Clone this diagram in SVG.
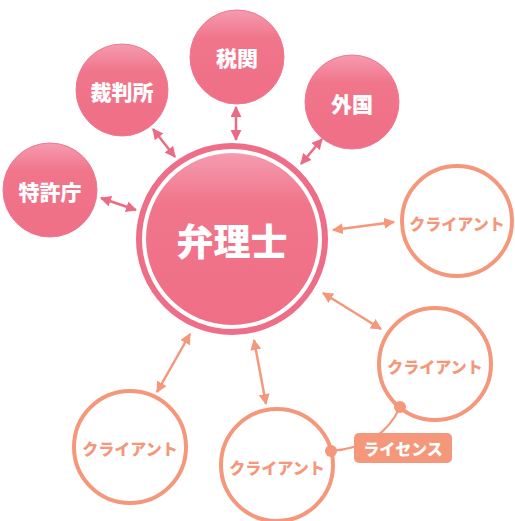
<svg xmlns="http://www.w3.org/2000/svg" width="515" height="521" viewBox="0 0 515 521">
<defs>
<linearGradient id="pg" x1="0" y1="0" x2="0" y2="1">
<stop offset="0" stop-color="#f59bb0"/>
<stop offset="0.3" stop-color="#f0758b"/>
<stop offset="1" stop-color="#ef6f86"/>
</linearGradient>
<marker id="ap" viewBox="0 0 10 10" refX="9" refY="5" markerWidth="4.4" markerHeight="4.4" orient="auto-start-reverse" markerUnits="strokeWidth">
<path d="M0,0 L10,5 L0,10 Z" fill="#ec6b84"/>
</marker>
<marker id="ao" viewBox="0 0 10 10" refX="9" refY="5" markerWidth="4.4" markerHeight="4.4" orient="auto-start-reverse" markerUnits="strokeWidth">
<path d="M0,0 L10,5 L0,10 Z" fill="#f5977a"/>
</marker>
<style>
.sat{fill:url(#pg);stroke:#f07890;stroke-width:1}
.st{fill:#fff;font-family:"Noto Sans CJK JP","Noto Sans",sans-serif;font-weight:900;font-size:21px;text-anchor:middle;dominant-baseline:central}
.cl{fill:#fff;stroke:#f5977a;stroke-width:4}
.ct{fill:#f5977a;font-family:"Noto Sans CJK JP","Noto Sans",sans-serif;font-weight:900;font-size:16px;text-anchor:middle;dominant-baseline:central}
.cp{stroke:#ec6b84;stroke-width:2.5;fill:none;marker-start:url(#ap);marker-end:url(#ap)}
.co{stroke:#f5977a;stroke-width:2.5;fill:none;marker-start:url(#ao);marker-end:url(#ao)}
</style>
</defs>
<g id="connectors">
<line class="cp" x1="236" y1="107" x2="236" y2="140"/>
<line class="cp" x1="153" y1="129" x2="175" y2="157"/>
<line class="cp" x1="101" y1="198" x2="136" y2="210"/>
<line class="cp" x1="322" y1="139" x2="301" y2="164"/>
<line class="co" x1="333" y1="230" x2="394" y2="222"/>
<line class="co" x1="323" y1="293" x2="381" y2="329"/>
<line class="co" x1="254" y1="340" x2="266" y2="404"/>
<line class="co" x1="190" y1="334" x2="157" y2="392"/>
</g>
<g id="n-benrishi">
<circle cx="232" cy="239" r="93" fill="none" stroke="#ee6d87" stroke-width="6"/>
<circle cx="232" cy="239" r="86" fill="url(#pg)"/>
<text x="232" y="240" class="st" style="font-size:37px">弁理士</text>
</g>
<g id="n-zeikan">
<circle class="sat" cx="237" cy="57" r="47"/>
<text x="237" y="57" class="st">税関</text>
</g>
<g id="n-saibansho">
<circle class="sat" cx="122" cy="90" r="46"/>
<text x="122" y="91" class="st">裁判所</text>
</g>
<g id="n-tokkyocho">
<circle class="sat" cx="50" cy="190" r="47"/>
<text x="50" y="191" class="st">特許庁</text>
</g>
<g id="n-gaikoku">
<circle class="sat" cx="352" cy="102" r="47"/>
<text x="352" y="103" class="st">外国</text>
</g>
<g id="n-client1">
<circle class="cl" cx="457" cy="221" r="55"/>
<text x="457" y="223" class="ct">クライアント</text>
</g>
<g id="n-client2">
<circle class="cl" cx="435" cy="364" r="56"/>
<text x="435" y="366" class="ct">クライアント</text>
</g>
<g id="n-client3">
<circle class="cl" cx="277" cy="465" r="56"/>
<text x="277" y="467" class="ct">クライアント</text>
</g>
<g id="n-client4">
<circle class="cl" cx="130" cy="447" r="56"/>
<text x="130" y="448" class="ct">クライアント</text>
</g>
<g id="license">
<path d="M400,407 Q382,447 331,451" fill="none" stroke="#f5977a" stroke-width="2"/>
<circle cx="400" cy="407" r="6" fill="#f5977a"/>
<circle cx="331" cy="451" r="6" fill="#f5977a"/>
<rect x="354" y="433" width="98" height="30" rx="5" fill="#f5977a"/>
<text x="403" y="448" class="st" style="font-size:16px">ライセンス</text>
</g>
</svg>
